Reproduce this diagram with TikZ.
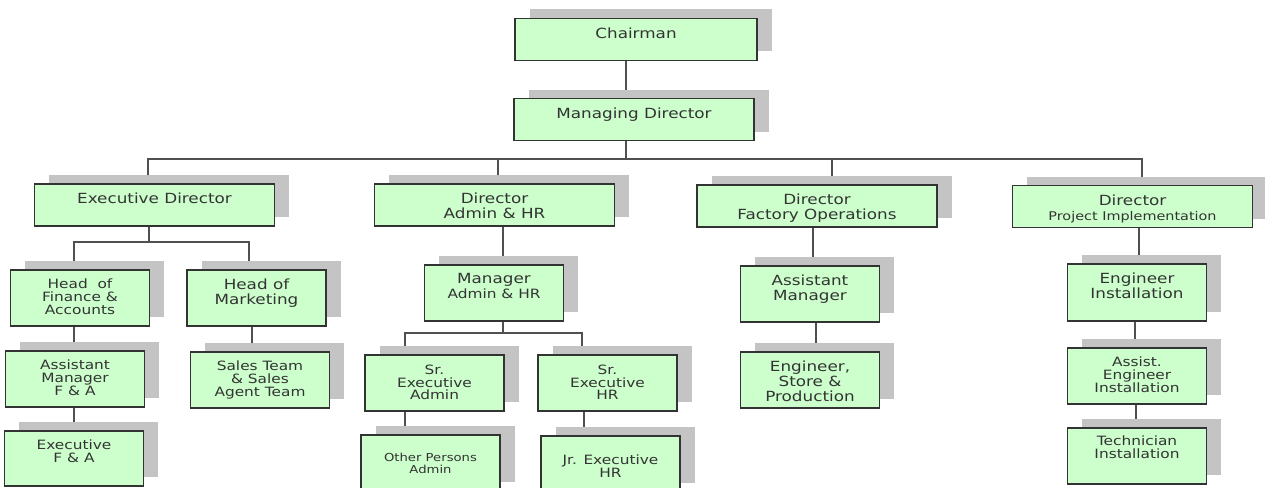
\documentclass[tikz,border=0pt]{standalone}
\usepackage{fontspec}
\setmainfont{DejaVu Sans}[FakeStretch=1.2]
\usetikzlibrary{positioning}
\usetikzlibrary{shadows}
\usetikzlibrary{backgrounds}
\definecolor{boxgreen}{HTML}{CCFFCC}
\definecolor{shade}{HTML}{C4C4C4}
\definecolor{ink}{HTML}{333333}
\definecolor{wire}{HTML}{505050}

\begin{document}
\begin{tikzpicture}[x=1pt,y=-1pt,
  post/.style={draw=ink, line width=1.2pt, fill=boxgreen, inner sep=0pt,
    drop shadow={shadow xshift=14.5pt, shadow yshift=9pt, fill=shade, opacity=1}},
  wide/.style={post, minimum width=240pt, minimum height=42pt},
  narrow/.style={post, minimum width=139pt, minimum height=56pt},
  bigtxt/.style={text=ink, align=center, inner sep=0pt, font=\fontsize{14}{15}\selectfont},
  smalltxt/.style={text=ink, align=center, inner sep=0pt, font=\fontsize{12.8}{12.9}\selectfont},
  link/.style={draw=wire, line width=1.2pt}]
\useasboundingbox (0,0) rectangle (1265,487);

% top
\node[wide, minimum width=242pt] (chair) at (636,39.5) {};
\node[bigtxt, below=9.5pt of chair.north] (chair-t) {Chairman};
\node[wide] (md) at (634,119.5) {};
\node[bigtxt, below=9.5pt of md.north] (md-t) {Managing Director};

% directors
\node[wide] (exec) at (154.5,205) {};
\node[bigtxt, below=9.5pt of exec.north] (exec-t) {Executive Director};
\node[wide] (adm) at (494.5,205) {};
\node[bigtxt, below=9.5pt of adm.north] (adm-t) {Director\\Admin \& HR};
\node[wide] (fact) at (817,206) {};
\node[bigtxt, below=9.5pt of fact.north] (fact-t) {Director\\Factory Operations};
\node[wide] (proj) at (1132.5,206.5) {};
\node[bigtxt, below=9.5pt of proj.north] (proj-t) {Director\\{\fontsize{12}{15}\selectfont Project Implementation}};

% executive director branch
\node[narrow] (fin) at (80,298) {};
\node[smalltxt, below=9pt of fin.north] (fin-t) {Head~~of\\Finance \&\\Accounts};
\node[narrow] (mkt) at (256.5,298) {};
\node[bigtxt, below=9.5pt of mkt.north] (mkt-t) {Head of\\Marketing};
\node[narrow] (amfa) at (75,379) {};
\node[smalltxt, below=9pt of amfa.north] (amfa-t) {Assistant\\Manager\\F \& A};
\node[narrow] (sales) at (260,380) {};
\node[smalltxt, below=9pt of sales.north] (sales-t) {Sales Team\\\& Sales\\Agent Team};
\node[narrow, minimum height=55pt] (exfa) at (74,458.5) {};
\node[smalltxt, below=9pt of exfa.north] (exfa-t) {Executive\\F \& A};

% admin & hr branch
\node[narrow] (madm) at (494,293) {};
\node[bigtxt, below=9pt of madm.north] (madm-t) {Manager\\{\fontsize{12.8}{15}\selectfont Admin \& HR}};
\node[narrow] (srad) at (434.5,383) {};
\node[smalltxt, below=10pt of srad.north] (srad-t) {Sr.\\Executive\\Admin};
\node[narrow] (srhr) at (607.5,383) {};
\node[smalltxt, below=10pt of srhr.north] (srhr-t) {Sr.\\Executive\\HR};
\node[narrow] (oth) at (430.5,463) {};
\node[smalltxt, font=\fontsize{11}{11.5}\selectfont, below=19pt of oth.north] (oth-t) {Other Persons\\Admin};
\node[narrow] (jrhr) at (610.5,464) {};
\node[smalltxt, below=19pt of jrhr.north] (jrhr-t) {Jr. Executive\\HR};

% factory branch
\node[narrow] (asm) at (810,294) {};
\node[bigtxt, below=9.5pt of asm.north] (asm-t) {Assistant\\Manager};
\node[narrow] (eng) at (810,380) {};
\node[bigtxt, below=9pt of eng.north] (eng-t) {Engineer,\\Store \&\\Production};

% project branch
\node[narrow, minimum height=57pt] (engi) at (1137,292.5) {};
\node[bigtxt, below=9.5pt of engi.north] (engi-t) {Engineer\\Installation};
\node[narrow] (asei) at (1137,376) {};
\node[smalltxt, below=9pt of asei.north] (asei-t) {Assist.\\Engineer\\Installation};
\node[narrow] (tech) at (1137,456) {};
\node[smalltxt, below=8.5pt of tech.north] (tech-t) {Technician\\Installation};

\begin{scope}[on background layer]
\coordinate (bus) at (626,159);
\draw[link] ([xshift=-10pt]chair.south) -- ([xshift=-8pt]md.north);
\draw[link] ([xshift=-8pt]md.south) -- (bus);
\draw[link] ([xshift=-6.5pt]exec.north) |- (bus) -| ([xshift=9.5pt]proj.north); % main bar
\draw[link] ([xshift=3.5pt]adm.north) -- ([xshift=3.5pt]adm.north |- bus);
\draw[link] ([xshift=15pt]fact.north) -- ([xshift=15pt]fact.north |- bus);

\coordinate (exbus) at (149,242);
\draw[link] ([xshift=-5.5pt]exec.south) -- (exbus);
\draw[link] ([xshift=-6pt]fin.north) |- (exbus) -| ([xshift=-7.5pt]mkt.north);
\draw[link] ([xshift=-6pt]fin.south) -- ([xshift=-1pt]amfa.north);
\draw[link] ([xshift=-4.5pt]mkt.south) -- ([xshift=-8pt]sales.north);
\draw[link] ([xshift=-1pt]amfa.south) -- (exfa.north);

\coordinate (mabus) at (503,333);
\draw[link] ([xshift=8.5pt]adm.south) -- ([xshift=9pt]madm.north);
\draw[link] ([xshift=9pt]madm.south) -- (mabus);
\draw[link] ([xshift=-29.5pt]srad.north) |- (mabus) -| ([xshift=-25.5pt]srhr.north);
\draw[link] ([xshift=-29.5pt]srad.south) -- ([xshift=-25.5pt]oth.north);
\draw[link] ([xshift=-23.5pt]srhr.south) -- ([xshift=-26.5pt]jrhr.north);

\draw[link] ([xshift=-4pt]fact.south) -- ([xshift=3pt]asm.north);
\draw[link] ([xshift=6pt]asm.south) -- ([xshift=6pt]eng.north);

\draw[link] ([xshift=6.5pt]proj.south) -- ([xshift=2pt]engi.north);
\draw[link] ([xshift=-2pt]engi.south) -- ([xshift=-2pt]asei.north);
\draw[link] ([xshift=-1pt]asei.south) -- ([xshift=-1pt]tech.north);
\end{scope}
\end{tikzpicture}
\end{document}
